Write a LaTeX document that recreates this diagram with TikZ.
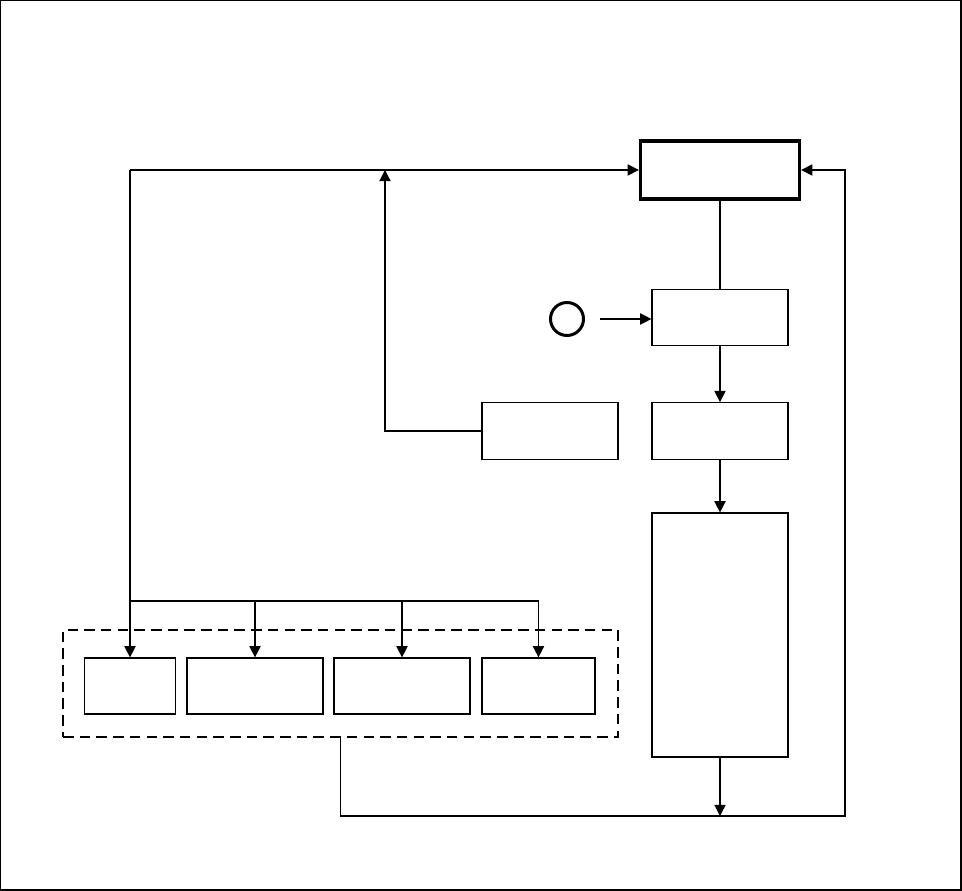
\documentclass[tikz,border=0pt]{standalone}
\usepackage{tikz}
\usetikzlibrary{arrows.meta,positioning,calc}

\tikzset{
	block/.style={draw,line width=0.7pt,inner sep=0pt,minimum width=2.72cm,minimum height=1.13cm},
	link/.style={line width=0.7pt},
	arrowlink/.style={line width=0.7pt,-{Triangle[length=6.4pt,width=6.4pt]}}
}

\begin{document}
\begin{tikzpicture}[x=0.02cm,y=-0.02cm]
	\useasboundingbox (0,0) rectangle (962,891);
	\draw[line width=0.6pt] (0.5,0.5) rectangle (961,890);
	
	% right column
	\node[block,line width=1.9pt,minimum width=3.18cm,minimum height=1.16cm] (top) at (720,170) {};
	\node[block] (feed) at (720,317.5) {};
	\node[block] (mid) at (720,431) {};
	\node[block,minimum height=4.88cm] (tall) at (720,635) {};
	
	% side block and source circle
	\node[block] (side) at (550,431) {};
	\node[circle,draw,line width=1.7pt,minimum size=0.66cm,inner sep=0pt] (src) at (567,319) {};
	\coordinate (srcout) at (600,319);
	
	% dashed group of four blocks
	\node[draw,line width=0.7pt,dash pattern=on 6pt off 3.5pt,minimum width=11.1cm,minimum height=2.14cm,inner sep=0pt] (group) at (340.5,683.5) {};
	\node[block,minimum width=1.82cm,minimum height=1.12cm] (ga) at (130,686) {};
	\node[block,minimum height=1.12cm] (gb) at (255,686) {};
	\node[block,minimum height=1.12cm] (gc) at (402,686) {};
	\node[block,minimum width=2.26cm,minimum height=1.12cm] (gd) at (538.5,686) {};
	
	% helper points for the routing
	\coordinate (corner) at (130,170);
	\coordinate (split) at (130,601);
	\coordinate (join) at (385,170);
	\coordinate (bottom) at (720,816);
	\coordinate (loop) at (845,816);
	
	% main chain
	\draw[link] (top.south) -- (feed.north);
	\draw[arrowlink] (srcout) -- (srcout -| feed.west);
	\draw[arrowlink] (feed.south) -- (mid.north);
	\draw[arrowlink] (mid.south) -- (tall.north);
	\draw[arrowlink] (tall.south) -- (bottom);
	
	% feedback lines
	\draw[arrowlink] (corner) -- (top.west);
	\draw[arrowlink] (side.west) -| (join);
	\draw[arrowlink] (group.south) |- (loop) |- (top.east);
	
	% distribution to the group
	\draw[arrowlink] (corner) -- (ga.north);
	\draw[arrowlink] (split) -| (gb.north);
	\draw[arrowlink] (split) -| (gc.north);
	\draw[arrowlink] (split) -| (gd.north);
\end{tikzpicture}
\end{document}
